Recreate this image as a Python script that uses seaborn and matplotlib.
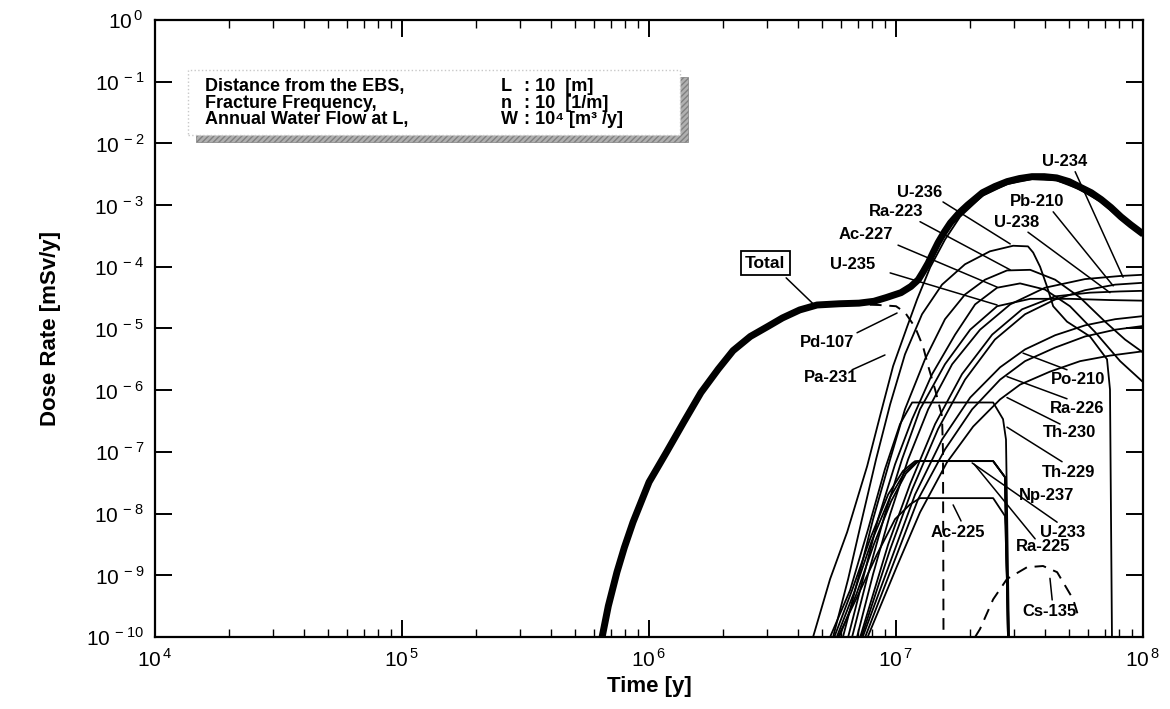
import numpy as np
import matplotlib
matplotlib.use('Agg')
import matplotlib.pyplot as plt
import seaborn as sns
from matplotlib.patches import Rectangle
from matplotlib.ticker import LogLocator, NullLocator, NullFormatter, FuncFormatter

sns.set_theme(style='ticks')
plt.rcParams['font.family'] = ['Liberation Sans', 'DejaVu Sans']
plt.rcParams['mathtext.fontset'] = 'custom'
plt.rcParams['mathtext.rm'] = 'Liberation Sans'
plt.rcParams['mathtext.bf'] = 'Liberation Sans:bold'
for k in ['text.color', 'axes.labelcolor', 'xtick.color', 'ytick.color', 'axes.edgecolor']:
    plt.rcParams[k] = 'black'

# --- data: (log10 time [y], log10 dose rate [mSv/y]) ---
total = [(5.81, -10), (5.835, -9.5), (5.87, -8.95), (5.90, -8.55), (5.935, -8.14), (6.0, -7.49),
         (6.07, -7.01), (6.14, -6.52), (6.21, -6.04), (6.28, -5.66), (6.34, -5.36), (6.41, -5.13),
         (6.48, -4.97), (6.54, -4.83), (6.61, -4.70), (6.68, -4.62), (6.77, -4.60), (6.85, -4.59),
         (6.91, -4.56), (6.96, -4.50), (7.02, -4.42), (7.06, -4.32), (7.09, -4.21), (7.11, -4.08),
         (7.13, -3.94), (7.15, -3.77), (7.17, -3.61), (7.195, -3.44), (7.22, -3.29), (7.255, -3.13),
         (7.29, -3.0), (7.35, -2.80), (7.40, -2.70), (7.45, -2.62), (7.50, -2.57), (7.55, -2.54),
         (7.60, -2.54), (7.65, -2.56), (7.70, -2.62), (7.74, -2.70), (7.79, -2.80), (7.83, -2.91),
         (7.87, -3.04), (7.91, -3.19), (7.95, -3.32), (8.0, -3.47)]

pa231 = [(6.664, -10), (6.733, -9.06), (6.802, -8.30), (6.883, -7.23), (6.935, -6.42), (6.988, -5.61),
         (7.045, -4.97), (7.085, -4.53), (7.138, -4.01), (7.198, -3.56), (7.259, -3.19), (7.35, -2.85),
         (7.45, -2.66), (7.55, -2.58), (7.65, -2.60), (7.74, -2.74), (7.83, -2.95), (7.91, -3.23), (8.0, -3.51)]
u236 = [(6.745, -10), (6.806, -9.06), (6.862, -8.09), (6.919, -7.12), (6.976, -6.23), (7.036, -5.42),
        (7.105, -4.77), (7.186, -4.29), (7.279, -3.96), (7.38, -3.75), (7.474, -3.66), (7.534, -3.67),
        (7.555, -3.77), (7.583, -4.0), (7.611, -4.32), (7.636, -4.64), (7.692, -4.89), (7.785, -5.13),
        (7.854, -5.50), (7.866, -5.99), (7.874, -10)]
ra223 = [(6.785, -10), (6.846, -9.06), (6.907, -8.09), (6.976, -7.12), (7.036, -6.31), (7.117, -5.50),
         (7.198, -4.85), (7.279, -4.45), (7.36, -4.21), (7.449, -4.06), (7.543, -4.05), (7.644, -4.21),
         (7.745, -4.50), (7.846, -4.89), (7.927, -5.18), (8.0, -5.39)]
ac227 = [(6.806, -10), (6.866, -9.06), (6.927, -8.09), (6.996, -7.20), (7.065, -6.47), (7.146, -5.74),
         (7.239, -5.10), (7.32, -4.61), (7.409, -4.34), (7.502, -4.27), (7.603, -4.37), (7.704, -4.64),
         (7.806, -5.06), (7.907, -5.53), (8.0, -5.87)]
u235 = [(6.822, -10), (6.887, -8.98), (6.955, -8.01), (7.024, -7.12), (7.097, -6.31), (7.198, -5.58),
        (7.30, -5.02), (7.409, -4.64), (7.543, -4.52), (7.704, -4.52), (7.866, -4.54), (8.0, -4.55)]
u234 = [(6.842, -10), (6.907, -8.98), (6.976, -8.01), (7.049, -7.12), (7.13, -6.31), (7.227, -5.58),
        (7.34, -5.02), (7.462, -4.61), (7.603, -4.34), (7.765, -4.20), (7.907, -4.15), (8.0, -4.13)]
u238 = [(6.855, -10), (6.968, -8.50), (7.057, -7.52), (7.158, -6.55), (7.267, -5.74), (7.389, -5.10),
        (7.51, -4.69), (7.644, -4.48), (7.785, -4.42), (7.907, -4.40), (8.0, -4.39)]
pb210 = [(6.86, -10), (6.976, -8.58), (7.065, -7.61), (7.17, -6.63), (7.279, -5.83), (7.40, -5.18),
         (7.522, -4.77), (7.644, -4.53), (7.765, -4.38), (7.887, -4.29), (8.0, -4.26)]
po210 = [(6.865, -10), (6.988, -8.66), (7.077, -7.69), (7.186, -6.80), (7.30, -6.12), (7.421, -5.63),
         (7.522, -5.34), (7.644, -5.11), (7.765, -4.95), (7.887, -4.85), (8.0, -4.80)]
ra226 = [(6.875, -10), (6.996, -8.74), (7.089, -7.77), (7.198, -6.96), (7.308, -6.31), (7.421, -5.83),
         (7.522, -5.53), (7.644, -5.31), (7.765, -5.13), (7.887, -5.02), (8.0, -4.96)]
th230 = [(6.885, -10), (7.004, -8.85), (7.097, -7.98), (7.206, -7.17), (7.312, -6.59), (7.421, -6.15),
         (7.502, -5.91), (7.623, -5.70), (7.745, -5.53), (7.866, -5.44), (8.0, -5.37)]
th229 = [(6.733, -10), (6.814, -9.24), (6.887, -8.25), (6.955, -7.28), (7.016, -6.55), (7.065, -6.20),
         (7.393, -6.20), (7.433, -6.47), (7.445, -6.80), (7.457, -10)]
np237 = [(6.75, -10), (6.822, -9.24), (6.895, -8.41), (6.968, -7.69), (7.028, -7.31), (7.077, -7.15),
         (7.393, -7.15), (7.441, -7.41), (7.453, -10)]
u233 = [(6.77, -10), (6.84, -9.30), (6.91, -8.50), (6.98, -7.80), (7.04, -7.35), (7.09, -7.15),
        (7.393, -7.15), (7.441, -7.41), (7.453, -10)]
ra225 = [(6.76, -10), (6.83, -9.28), (6.90, -8.46), (6.975, -7.74), (7.035, -7.33), (7.085, -7.15),
         (7.393, -7.15), (7.441, -7.41), (7.453, -10)]
ac225 = [(6.765, -10), (6.846, -9.32), (6.923, -8.66), (6.996, -8.09), (7.057, -7.85), (7.097, -7.75),
         (7.393, -7.75), (7.441, -8.04), (7.457, -10)]
pd107 = [(5.81, -10), (5.835, -9.52), (5.87, -8.97), (5.90, -8.57), (5.935, -8.16), (6.0, -7.51),
         (6.07, -7.03), (6.14, -6.54), (6.21, -6.06), (6.28, -5.68), (6.34, -5.38), (6.41, -5.15),
         (6.48, -4.99), (6.54, -4.85), (6.61, -4.72), (6.68, -4.64), (6.77, -4.62), (6.85, -4.61),
         (6.93, -4.62), (7.0, -4.64), (7.036, -4.74), (7.077, -4.98), (7.109, -5.29), (7.13, -5.61),
         (7.158, -5.99), (7.186, -6.42), (7.19, -7.01), (7.192, -10)]
cs135 = [(7.32, -10), (7.34, -9.87), (7.393, -9.39), (7.449, -9.06), (7.53, -8.87), (7.595, -8.85),
         (7.652, -8.95), (7.692, -9.22), (7.717, -9.39), (7.735, -9.63)]

solid_curves = [pa231, u236, ra223, ac227, u235, u234, u238, pb210, po210, ra226, th230,
                th229, np237, u233, ra225, ac225]
dashed_curves = [pd107, cs135]

# label text, label position, pointer start, pointer end (all log10 t, log10 d)
labels = [
    ('U-234', (7.684, -2.30), (7.725, -2.46), (7.919, -4.17)),
    ('Pb-210', (7.571, -2.95), (7.636, -3.11), (7.879, -4.31)),
    ('U-238', (7.49, -3.29), (7.534, -3.44), (7.866, -4.42)),
    ('U-236', (7.097, -2.80), (7.19, -2.95), (7.462, -3.63)),
    ('Ra-223', (7.0, -3.11), (7.097, -3.27), (7.462, -4.05)),
    ('Ac-227', (6.879, -3.48), (7.008, -3.65), (7.409, -4.33)),
    ('U-235', (6.826, -3.97), (6.976, -4.10), (7.409, -4.62)),
    ('Pd-107', (6.721, -5.23), (6.842, -5.07), (7.004, -4.75)),
    ('Pa-231', (6.737, -5.80), (6.822, -5.67), (6.955, -5.43)),
    ('Po-210', (7.737, -5.83), (7.692, -5.67), (7.514, -5.40)),
    ('Ra-226', (7.733, -6.29), (7.692, -6.14), (7.449, -5.78)),
    ('Th-230', (7.704, -6.69), (7.664, -6.55), (7.449, -6.12)),
    ('Th-229', (7.70, -7.33), (7.672, -7.16), (7.449, -6.60)),
    ('Np-237', (7.611, -7.70), None, None),
    ('U-233', (7.676, -8.30), (7.652, -8.14), (7.308, -7.18)),
    ('Ra-225', (7.595, -8.54), (7.563, -8.41), (7.316, -7.20)),
    ('Ac-225', (7.251, -8.30), (7.263, -8.12), (7.231, -7.86)),
    ('Cs-135', (7.623, -9.59), (7.632, -9.40), (7.623, -9.05)),
]


def xy(curve):
    arr = np.array(curve, dtype=float)
    return 10 ** arr[:, 0], 10 ** arr[:, 1]


fig = plt.figure(figsize=(11.7, 7.09), dpi=100)
ax = fig.add_axes([0.1325, 0.1016, 0.8445, 0.8703])
ax.set_xscale('log')
ax.set_yscale('log')

for c in solid_curves:
    x, y = xy(c)
    sns.lineplot(x=x, y=y, ax=ax, color='black', lw=1.3, estimator=None, sort=False, legend=False)
for c in dashed_curves:
    x, y = xy(c)
    sns.lineplot(x=x, y=y, ax=ax, color='black', lw=1.4, estimator=None, sort=False, legend=False,
                 linestyle=(0, (6, 4)))
x, y = xy(total)
sns.lineplot(x=x, y=y, ax=ax, color='black', lw=5, estimator=None, sort=False, legend=False,
             solid_capstyle='butt', solid_joinstyle='round')

ax.set_xlim(1e4, 1e8)
ax.set_ylim(1e-10, 1)

# ticks
ax.xaxis.set_major_locator(LogLocator(base=10, numticks=10))
ax.xaxis.set_minor_locator(LogLocator(base=10, subs=np.arange(2, 10), numticks=20))
ax.xaxis.set_minor_formatter(NullFormatter())
ax.yaxis.set_major_locator(LogLocator(base=10, numticks=20))
ax.yaxis.set_minor_locator(NullLocator())
fmt = FuncFormatter(lambda v, p: r'$10^{\,%d}$' % round(np.log10(v)))
ax.xaxis.set_major_formatter(fmt)
ax.yaxis.set_major_formatter(fmt)
ax.tick_params(which='both', direction='in', top=True, right=True, colors='black')
ax.tick_params(which='major', length=12, width=1.4, labelsize=15, pad=8)
ax.tick_params(which='minor', length=6, width=1.0)
for s in ax.spines.values():
    s.set_linewidth(1.6)
    s.set_color('black')
ax.grid(False)

ax.set_xlabel('Time [y]', fontsize=16, fontweight='bold', labelpad=4)
ax.set_ylabel('Dose Rate [mSv/y]', fontsize=16, fontweight='bold', labelpad=18)

# parameter box with shadow
ax.add_patch(Rectangle((0.0415, 0.8023), 0.498, 0.1053, transform=ax.transAxes,
                       facecolor='#b0b0b0', edgecolor='#808080', hatch='//////', lw=0.5, zorder=5))
ax.add_patch(Rectangle((0.0334, 0.8136), 0.498, 0.1053, transform=ax.transAxes,
                       facecolor='white', edgecolor='#c8c8c8', linestyle=':', lw=1.0, zorder=6))
rows = ['Distance from the EBS,', 'Fracture Frequency,', 'Annual Water Flow at L,']
syms = ['L', 'n', 'W']
vals = [': 10  [m]', ': 10  [1/m]', ': 10\u2074 [m\u00b3 /y]']
box_cols = [(0.0506, rows), (0.350, syms), (0.373, vals)]
for cx, col in box_cols:
    ax.text(cx, 0.9055, '\n'.join(col), transform=ax.transAxes, fontsize=13, fontweight='bold',
            va='top', ha='left', linespacing=0.95, zorder=7)

# Total label in a box
ax.annotate('', xy=(10 ** 6.664, 10 ** -4.60), xytext=(10 ** 6.555, 10 ** -4.18),
            arrowprops=dict(arrowstyle='-', lw=1.1, color='black', shrinkA=0, shrinkB=0))
ax.text(10 ** 6.47, 10 ** -3.94, 'Total', fontsize=12.5, fontweight='bold', ha='center', va='center',
        bbox=dict(boxstyle='square,pad=0.25', facecolor='white', edgecolor='black', lw=1.3))

for name, pos, p0, p1 in labels:
    if p0 is not None:
        ax.annotate('', xy=(10 ** p1[0], 10 ** p1[1]), xytext=(10 ** p0[0], 10 ** p0[1]),
                    arrowprops=dict(arrowstyle='-', lw=1.1, color='black', shrinkA=0, shrinkB=0))
    ax.text(10 ** pos[0], 10 ** pos[1], name, fontsize=12, fontweight='bold', ha='center', va='center')

fig.savefig('out.png', dpi=100)
